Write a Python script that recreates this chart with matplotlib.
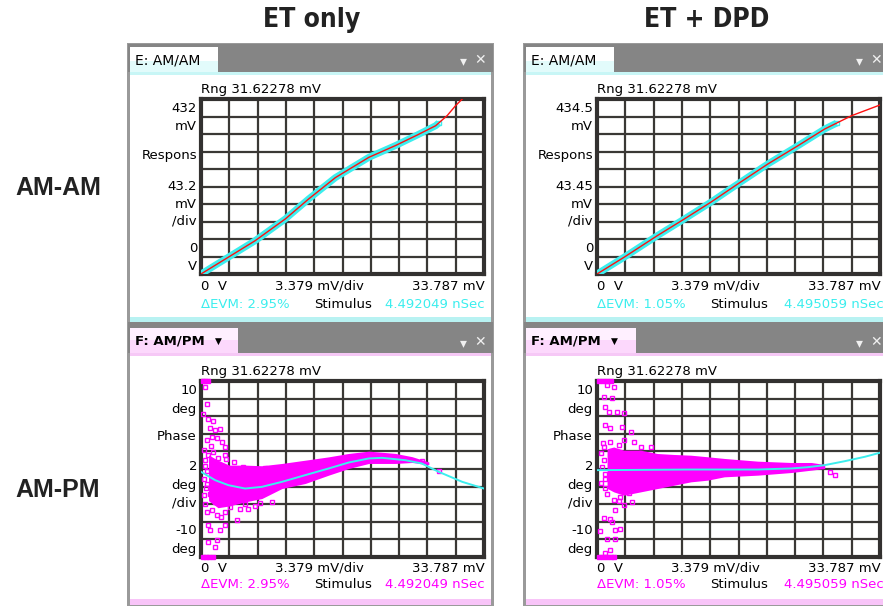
import matplotlib
matplotlib.use("Agg")
import matplotlib.pyplot as plt
from matplotlib.patches import Rectangle
import numpy as np

W, H = 883, 606
CYAN = '#3ceeee'
MAG = '#ff00ff'
GRIDC = '#3a3835'
plt.rcParams['font.family'] = ['DejaVu Sans']

# ---------------- DATA ----------------
# AM/AM, ET only : stimulus mV -> response mV
amam_et_x = [0, 6.45, 10.07, 12.84, 16.05, 20.04, 23.21, 25.81, 28.01, 29.39, 30.41, 31.39]
amam_et_y = [0, 82, 136, 185, 238, 288, 317, 343, 366, 391, 416, 436]
amam_et_meas_end = 28.4

# AM/AM, ET + DPD
amam_dpd_x = [0, 3.21, 7.20, 10.41, 13.58, 16.79, 20.41, 23.99, 27.20, 30.41, 33.79]
amam_dpd_y = [0, 41.3, 95.2, 136.4, 178.1, 223.3, 273.3, 318.5, 360.2, 393.2, 419.7]
amam_dpd_meas_end = 28.6

# AM/PM, ET only : fitted curve (deg)
ampm_et_fit_x = [0, 1.69, 3.28, 5.27, 7.26, 9.66, 12.43, 15.24, 17.64, 20.04, 21.62,
                 24.39, 26.35, 28.38, 31.19, 33.79]
ampm_et_fit_y = [-0.32, -1.27, -1.84, -2.22, -2.03, -1.46, -0.70, 0.06, 0.74, 1.2, 1.27,
                 1.0, 0.63, -0.32, -1.46, -2.22]
# dense cloud envelope
ampm_et_band_x = [0.9, 2.03, 3.38, 5.27, 7.26, 9.66, 12.43, 15.24, 17.64, 20.04, 23.21, 25.2, 27.2]
ampm_et_band_hi = [1.6, 1.0, 0.44, 0.44, 0.37, 0.63, 1.0, 1.38, 1.77, 2.03, 1.77, 1.4, 0.8]
ampm_et_band_lo = [-3.6, -4.4, -4.2, -3.74, -3.36, -2.22, -1.65, -0.70, 0.06, 0.63, 0.63, 0.74, 0.5]
# scattered points
ampm_et_pts_x = [0.48, 0.68, 0.28, 0.88, 1.48, 1.08, 1.68, 2.27, 0.68, 1.28, 1.87, 2.47, 2.87,
                 0.88, 1.48, 2.07, 2.87, 0.68, 1.08, 1.68, 3.27, 4.07, 5.27, 5.66, 0.48, 0.68,
                 1.28, 1.87, 2.87, 3.47, 4.27, 0.88, 1.08, 2.27, 2.87, 0.88, 1.87, 1.68, 8.46,
                 7.66, 5.07, 26.41, 28.40, 0.3, 0.5, 0.7, 0.4, 0.6, 0.3, 1.2, 0.5, 2.4, 3.0,
                 3.9, 4.6, 6.4, 7.0]
ampm_et_pts_y = [9.35, 7.34, 6.20, 5.67, 5.48, 4.61, 4.42, 4.54, 3.28, 3.66, 3.47, 3.09, 2.52,
                 1.58, 1.95, 1.20, 1.58, -1.65, -2.79, -3.74, -3.36, -2.41, -3.93, -4.5, -3.93,
                 -4.88, -4.69, -5.26, -4.88, -4.31, -5.83, -6.39, -6.96, -6.96, -6.39, -8.29,
                 -8.10, -8.86, -3.74, 0.13, 0.25, 0.89, -0.25, 2.2, 1.0, -0.2, -1.1, -2.2,
                 -3.0, 2.6, 0.3, -5.5, 1.1, 0.8, -4.6, -4.2, -3.9]
ampm_et_clip_top = [0.2, 0.5, 0.8]
ampm_et_clip_bot = [0.2, 0.6, 1.0, 1.4]

# AM/PM, ET + DPD
ampm_dpd_fit_x = [0, 11.2, 19.19, 23.19, 25.19, 27.19, 29.59, 31.98, 33.79]
ampm_dpd_fit_y = [-0.13, -0.06, -0.06, 0.06, 0.21, 0.44, 0.89, 1.39, 1.85]
ampm_dpd_band_x = [1.2, 2.0, 3.2, 5.2, 7.2, 9.2, 11.2, 13.2, 15.19, 19.19, 23.19, 25.59, 27.19]
ampm_dpd_band_hi = [2.3, 2.5, 2.14, 2.14, 1.76, 1.65, 1.57, 1.39, 1.20, 0.89, 0.74, 0.74, 0.51]
ampm_dpd_band_lo = [-2.2, -2.6, -2.98, -2.60, -2.22, -1.84, -1.46, -1.27, -0.89, -0.70, -0.40, -0.13, 0.06]
ampm_dpd_pts_x = [1.2, 2.0, 0.8, 1.8, 1.0, 1.4, 2.4, 3.2, 1.0, 1.6, 3.0, 4.0, 0.8, 1.6, 2.6, 3.2,
                  4.4, 5.2, 1.0, 1.2, 2.0, 2.8, 3.2, 4.2, 2.2, 0.8, 1.6, 1.8, 0.4, 2.2, 2.8, 1.2,
                  2.2, 1.0, 1.6, 28.39, 27.79, 0.5, 0.8, 0.6, 1.0, 0.5, 0.9, 0.7, 2.6, 3.8, 6.4]
ampm_dpd_pts_y = [9.54, 9.35, 8.22, 8.10, 7.08, 6.51, 6.51, 6.32, 4.99, 4.61, 4.80, 4.23, 2.52,
                  3.09, 2.71, 3.28, 3.09, 2.52, -1.08, -2.79, -3.55, -3.17, -4.12, -3.74, -4.69,
                  -5.56, -5.64, -6.02, -7.08, -6.96, -6.77, -7.99, -7.91, -9.54, -9.24, -0.63,
                  -0.32, 1.8, 1.0, 0.2, -0.6, -1.6, -2.2, 2.9, -3.6, -2.7, 2.5]
ampm_dpd_clip_top = [0.2, 0.7, 1.2, 1.7]
ampm_dpd_clip_bot = [0.2, 0.7, 1.2, 1.7, 2.0]

x_full = 33.787
amam_top = [432, 434.5]
amam_div = ['43.2', '43.45']
amam_topl = ['432', '434.5']
evm = ['2.95%', '1.05%']
stim = ['4.492049 nSec', '4.495059 nSec']
col_titles = ['ET only', 'ET + DPD']
row_titles = ['AM-AM', 'AM-PM']

# ---------------- FIGURE ----------------
fig = plt.figure(figsize=(W / 100, H / 100), dpi=100)
bg = fig.add_axes([0, 0, 1, 1])
bg.set_xlim(0, W)
bg.set_ylim(H, 0)
bg.axis('off')


def px_axes(x0, y0, x1, y1):
    return fig.add_axes([x0 / W, 1 - y1 / H, (x1 - x0) / W, (y1 - y0) / H])


def style_grid(ax, ymin, ymax):
    ax.set_xlim(0, x_full)
    ax.set_ylim(ymin, ymax)
    ax.set_xticks(np.linspace(0, x_full, 11))
    ax.set_yticks(np.linspace(ymin, ymax, 11))
    ax.grid(True, color=GRIDC, lw=1.6)
    ax.tick_params(length=0, labelbottom=False, labelleft=False)
    for s in ax.spines.values():
        s.set_linewidth(3)
        s.set_color('#333130')
    ax.set_axisbelow(True)


cols = [dict(fx0=127, fx1=494, gx0=201, gx1=484, tabw=88, tabw2=108),
        dict(fx0=523, fx1=890, gx0=597, gx1=880, tabw=88, tabw2=110)]

for i, c in enumerate(cols):
    fx0, fx1, gx0, gx1 = c['fx0'], c['fx1'], c['gx0'], c['gx1']
    # frame and tab bars
    bg.add_patch(Rectangle((fx0, 43), fx1 - fx0, 563, color='#9a9a9a', lw=0))
    bg.add_patch(Rectangle((fx0 + 1, 44), fx1 - fx0 - 2, 28, color='#858585', lw=0))
    bg.add_patch(Rectangle((fx0 + 3, 72), fx1 - fx0 - 6, 3, color='#c8f6f6', lw=0))
    bg.add_patch(Rectangle((fx0 + 3, 75), fx1 - fx0 - 6, 242, color='white', lw=0))
    bg.add_patch(Rectangle((fx0 + 3, 317), fx1 - fx0 - 6, 5, color='#b8f2f2', lw=0))
    bg.add_patch(Rectangle((fx0 + 1, 322), fx1 - fx0 - 2, 31, color='#858585', lw=0))
    bg.add_patch(Rectangle((fx0 + 3, 353), fx1 - fx0 - 6, 3, color='#f6c8f6', lw=0))
    bg.add_patch(Rectangle((fx0 + 3, 356), fx1 - fx0 - 6, 243, color='white', lw=0))
    bg.add_patch(Rectangle((fx0 + 3, 599), fx1 - fx0 - 6, 6, color='#f8c4f8', lw=0))
    # tabs
    bg.add_patch(Rectangle((fx0 + 3, 47), c['tabw'], 14, color='#ffffff', lw=0))
    bg.add_patch(Rectangle((fx0 + 3, 61), c['tabw'], 11, color='#e2fbfb', lw=0))
    bg.add_patch(Rectangle((fx0 + 3, 328), c['tabw2'], 12, color='#fff0ff', lw=0))
    bg.add_patch(Rectangle((fx0 + 3, 340), c['tabw2'], 13, color='#fcd8fc', lw=0))
    bg.text(fx0 + 8, 60, 'E: AM/AM', fontsize=10, va='center', ha='left')
    bg.text(fx0 + 8, 341, 'F: AM/PM', fontsize=9.5, va='center', ha='left', fontweight='bold')
    bg.text(fx0 + 88, 341, '▼', fontsize=6.5, va='center', ha='left')
    icon_x = min(fx0 + 336, 860)
    for yy in (60, 342):
        bg.text(icon_x, yy + 1, '▾', fontsize=10, va='center', ha='center', color='#f0f0f0')
        bg.text(icon_x + 17, yy, '✕', fontsize=10, va='center', ha='center', color='#f0f0f0')

    # ---- AM/AM plot ----
    ax = px_axes(gx0, 99, gx1, 274)
    style_grid(ax, 0, amam_top[i])
    xs = amam_et_x if i == 0 else amam_dpd_x
    ys = amam_et_y if i == 0 else amam_dpd_y
    xend = amam_et_meas_end if i == 0 else amam_dpd_meas_end
    xm = np.array([v for v in xs if v <= xend] + [xend])
    ym = np.interp(xm, xs, ys)
    ax.plot(xm, ym, color=CYAN, lw=5, solid_capstyle='butt', zorder=3)
    ax.plot(xm[-1:], ym[-1:], 's', ms=3.5, mfc='none', mec=CYAN, mew=1, zorder=3)
    ax.plot(xs, ys, color='#ff1010', lw=1, zorder=4)

    # ---- AM/PM plot ----
    ax2 = px_axes(gx0, 381, gx1, 557)
    style_grid(ax2, -10, 10)
    if i == 0:
        bx, bh, bl = ampm_et_band_x, ampm_et_band_hi, ampm_et_band_lo
        px_, py_ = ampm_et_pts_x, ampm_et_pts_y
        fx, fy = ampm_et_fit_x, ampm_et_fit_y
        ct, cb = ampm_et_clip_top, ampm_et_clip_bot
    else:
        bx, bh, bl = ampm_dpd_band_x, ampm_dpd_band_hi, ampm_dpd_band_lo
        px_, py_ = ampm_dpd_pts_x, ampm_dpd_pts_y
        fx, fy = ampm_dpd_fit_x, ampm_dpd_fit_y
        ct, cb = ampm_dpd_clip_top, ampm_dpd_clip_bot
    ax2.fill_between(bx, bl, bh, color=MAG, lw=0, zorder=3)
    ax2.plot(px_, py_, 's', ms=3.2, mfc='none', mec=MAG, mew=1, zorder=3)
    ax2.plot(ct, [10] * len(ct), 's', ms=3.2, color=MAG, clip_on=False, zorder=5)
    ax2.plot(cb, [-10] * len(cb), 's', ms=3.2, color=MAG, clip_on=False, zorder=5)
    ax2.plot(fx, fy, color=CYAN, lw=1.4, zorder=4)

    # ---- texts ----
    top_lbls = [amam_topl[i], 'mV', 'Respons', amam_div[i], 'mV', '/div', '0', 'V']
    top_y = [108, 127, 155, 186, 204, 221, 248, 267]
    bot_lbls = ['10', 'deg', 'Phase', '2', 'deg', '/div', '-10', 'deg']
    bot_y = [390, 409, 437, 466, 485, 503, 531, 550]
    for oy, lbls, ly, evmc in ((0, top_lbls, top_y, CYAN), (282, bot_lbls, bot_y, MAG)):
        bg.text(gx0, 89 + oy, 'Rng 31.62278 mV', fontsize=9.5, va='center', ha='left')
        for t, yy in zip(lbls, ly):
            bg.text(gx0 - 4, yy, t, fontsize=9.5, va='center', ha='right')
        bg.text(gx0, 286 + oy, '0  V', fontsize=9.5, va='center', ha='left')
        bg.text(gx0 + 118, 286 + oy, '3.379 mV/div', fontsize=9.5, va='center', ha='center')
        bg.text(gx1 + 1, 286 + oy, '33.787 mV', fontsize=9.5, va='center', ha='right')
        bg.text(gx0, 304 + oy - (1 if oy else 0), '\u0394EVM: ' + evm[i], fontsize=9.5,
                va='center', ha='left', color=evmc)
        bg.text(gx0 + 113, 304 + oy - (1 if oy else 0), 'Stimulus', fontsize=9.5,
                va='center', ha='left')
        bg.text(gx1 + 1 + (3 if i else 0), 304 + oy - (1 if oy else 0), stim[i], fontsize=9.5,
                va='center', ha='right', color=evmc)

    bg.text((fx0 + min(fx1, W) + (0 if i == 0 else 6)) / 2 + 1, 20, col_titles[i],
            fontsize=19, fontweight='bold', fontstretch='condensed', va='center', ha='center',
            family=['DejaVu Sans'], color='#222222')

bg.text(58, 188, row_titles[0], fontsize=18, fontweight='bold', va='center', ha='center',
        family=['Liberation Sans', 'DejaVu Sans'], color='#222222')
bg.text(58, 490, row_titles[1], fontsize=18, fontweight='bold', va='center', ha='center',
        family=['Liberation Sans', 'DejaVu Sans'], color='#222222')

fig.savefig('out.png', dpi=100)
